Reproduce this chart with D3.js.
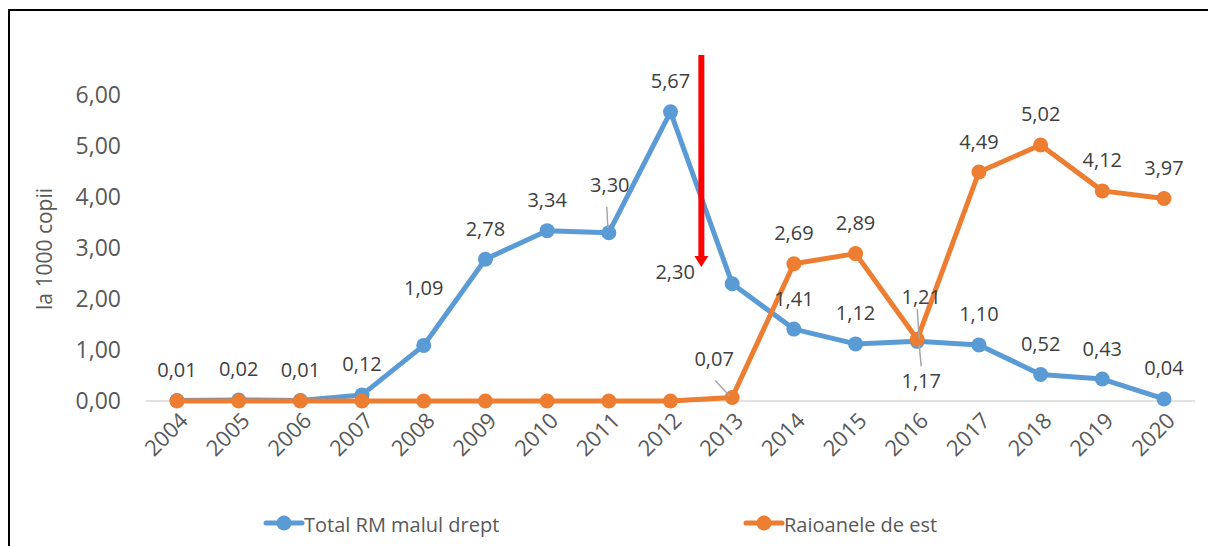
<html>
<head>
<script src="https://d3js.org/d3.v7.min.js"></script>
<style>
  body { margin: 0; background: #fff; }
  text { font-family: "Open Sans", sans-serif; }
</style>
</head>
<body>
<svg id="chart" width="1208" height="546"></svg>
<script>
// data
var years = ["2004","2005","2006","2007","2008","2009","2010","2011","2012","2013","2014","2015","2016","2017","2018","2019","2020"];
var rightBank = [0.01,0.02,0.01,0.12,1.09,2.78,3.34,3.30,5.67,2.30,1.41,1.12,1.17,1.10,0.52,0.43,0.04];
var eastDistricts = [0,0,0,0,0,0,0,0,0,0.07,2.69,2.89,1.21,4.49,5.02,4.12,3.97];
var eastLabelled = [false,false,false,false,false,false,false,false,false,true,true,true,true,true,true,true,true];
var yTicks = [0,1,2,3,4,5,6];
var seriesNames = ["Total RM malul drept", "Raioanele de est"];

var blue = "#5B9BD5", orange = "#ED7D31";
var fmt = function(v) { return d3.format(".2f")(v).replace(".", ","); };

var svg = d3.select("#chart");

// frame (left + top only visible)
svg.append("path").attr("d", "M9,546V10H1208").attr("fill", "none").attr("stroke", "#000").attr("stroke-width", 2);

var x = d3.scalePoint().domain(years).range([177, 1164]);
var y = d3.scaleLinear().domain([0, 6]).range([401, 95]);

// zero line
svg.append("line").attr("x1", 146).attr("x2", 1195).attr("y1", y(0)).attr("y2", y(0))
  .attr("stroke", "#d9d9d9").attr("stroke-width", 1.5);

// y axis labels
svg.append("g").attr("transform", "translate(121,0)")
  .call(d3.axisLeft(y).tickValues(yTicks).tickSize(0).tickPadding(0).tickFormat(fmt))
  .call(function(g) { g.select(".domain").remove(); })
  .selectAll("text").attr("font-size", 23).attr("fill", "#595959").attr("font-family", "Open Sans");

// x axis labels
svg.append("g").attr("transform", "translate(0," + y(0) + ")")
  .call(d3.axisBottom(x).tickSize(0).tickPadding(0))
  .call(function(g) { g.select(".domain").remove(); })
  .selectAll("text")
  .attr("font-size", 22).attr("fill", "#595959").attr("font-family", "Open Sans")
  .attr("text-anchor", "end").attr("dy", null).attr("y", 0)
  .attr("transform", "translate(12,21) rotate(-45)");

// y title
svg.append("text").attr("transform", "translate(52,249) rotate(-90)")
  .attr("text-anchor", "middle").attr("font-size", 21).attr("fill", "#595959")
  .text("la 1000 copii");

var line = d3.line().x(function(d, i) { return x(years[i]); }).y(function(d) { return y(d); });

function drawSeries(vals, color) {
  svg.append("path").datum(vals).attr("d", line).attr("fill", "none")
    .attr("stroke", color).attr("stroke-width", 5).attr("stroke-linejoin", "round");
  svg.append("g").selectAll("circle").data(vals).join("circle")
    .attr("cx", function(d, i) { return x(years[i]); })
    .attr("cy", function(d) { return y(d); })
    .attr("r", 7.5).attr("fill", color);
}
drawSeries(rightBank, blue);
drawSeries(eastDistricts, orange);

// label nudges (dx, dy from the point); default sits above
var nudgeBlue = { "2008": [0, -58], "2011": [1, -48], "2013": [-57, -12], "2016": [4, 39] };
var nudgeOrange = { "2013": [-18, -39], "2016": [4, -43] };
var leaders = [
  ["2011", rightBank, [-2, -26], [-1, -5]],
  ["2013", eastDistricts, [-17, -17], [-3, -2]],
  ["2016", rightBank, [2, 4], [4, 25]],
  ["2016", eastDistricts, [0, -30], [2, 0]]
];

leaders.forEach(function(l) {
  var px = x(l[0]), py = y(l[1][years.indexOf(l[0])]);
  svg.append("line").attr("x1", px + l[2][0]).attr("y1", py + l[2][1])
    .attr("x2", px + l[3][0]).attr("y2", py + l[3][1])
    .attr("stroke", "#a6a6a6").attr("stroke-width", 1.5);
});

function drawLabels(vals, nudge, show) {
  var g = svg.append("g");
  vals.forEach(function(v, i) {
    if (show && !show[i]) return;
    var n = nudge[years[i]] || [0, -31];
    g.append("text").attr("x", x(years[i]) + n[0]).attr("y", y(v) + n[1])
      .attr("text-anchor", "middle").attr("dominant-baseline", "central")
      .attr("font-size", 20).attr("fill", "#404040").text(fmt(v));
  });
}
drawLabels(rightBank, nudgeBlue, null);
drawLabels(eastDistricts, nudgeOrange, eastLabelled);

// red arrow between 2012 and 2013
var ax = (x("2012") + x("2013")) / 2;
svg.append("rect").attr("x", ax - 3).attr("y", 55).attr("width", 6).attr("height", 203).attr("fill", "#ff0000");
svg.append("path").attr("d", "M" + (ax - 7) + ",256L" + (ax + 7) + ",256L" + ax + ",267Z").attr("fill", "#ff0000");

// legend
var legend = svg.append("g");
[[266, blue], [746, orange]].forEach(function(p, i) {
  legend.append("line").attr("x1", p[0]).attr("x2", p[0] + 36).attr("y1", 523).attr("y2", 523)
    .attr("stroke", p[1]).attr("stroke-width", 5).attr("stroke-linecap", "round");
  legend.append("circle").attr("cx", p[0] + 18).attr("cy", 523).attr("r", 7.5).attr("fill", p[1]);
  legend.append("text").attr("x", p[0] + 38).attr("y", 524).attr("dominant-baseline", "central")
    .attr("font-size", 20).attr("fill", "#595959")
    .text(seriesNames[i]);
});
</script>
</body>
</html>
